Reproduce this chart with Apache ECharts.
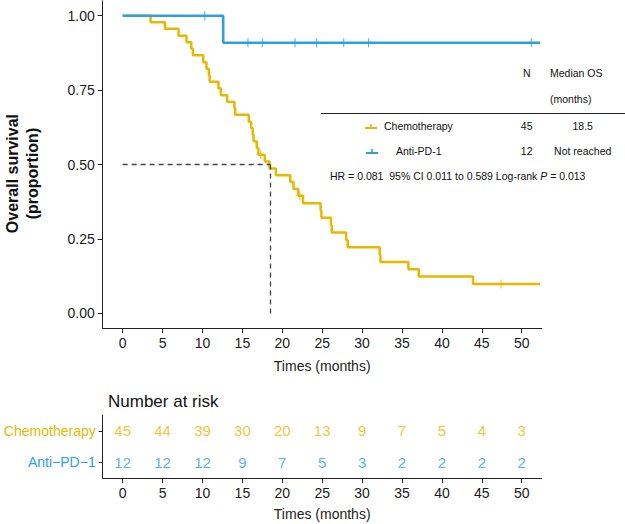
<!DOCTYPE html>
<html>
<head>
<meta charset="utf-8">
<script src="https://cdn.jsdelivr.net/npm/echarts@6/dist/echarts.min.js"></script>
<style>html,body{margin:0;padding:0;background:#fff;}#c{width:625px;height:524px;}</style>
</head>
<body>
<div id="c"></div>
<script>
// ---- data ----
const groups = ['Chemotherapy', 'Anti-PD-1'];
const groupN = [45, 12];
const medianOSText = ['18.5', 'Not reached'];
const medianOS = 18.5;
const riskTimes = [0, 5, 10, 15, 20, 25, 30, 35, 40, 45, 50];
const chemoAtRisk = [45, 44, 39, 30, 20, 13, 9, 7, 5, 4, 3];
const antiAtRisk = [12, 12, 12, 9, 7, 5, 3, 2, 2, 2, 2];
const riskRows = ['Anti\u2212PD\u22121', 'Chemotherapy'];
const yTicks = [0, 0.25, 0.5, 0.75, 1];
const chemoSurv = [[0,1],[3.5,0.978],[5.3,0.956],[7.0,0.933],[8.0,0.911],[8.6,0.889],[8.8,0.867],
  [10.1,0.844],[10.5,0.822],[10.8,0.800],[10.9,0.778],[12.0,0.756],[12.3,0.733],[13.1,0.711],
  [14.0,0.689],[14.1,0.667],[15.8,0.644],[16.1,0.622],[16.3,0.600],[16.4,0.578],[16.8,0.556],
  [17.0,0.533],[17.8,0.510],[18.4,0.487],[19.2,0.464],[21.0,0.441],[21.4,0.418],[22.0,0.395],
  [22.6,0.370],[24.8,0.346],[24.9,0.321],[26.1,0.296],[26.2,0.272],[28.0,0.247],[28.2,0.222],
  [32.2,0.197],[32.3,0.173],[35.8,0.148],[37.1,0.124],[43.9,0.099],[52.3,0.099]];
const chemoCensor = [[17.3,0.533],[22.2,0.395],[47.4,0.099]];
const antiSurv = [[0,1],[12.6,0.909],[52.3,0.909]];
const antiCensor = [[10.3,1],[15.7,0.909],[17.5,0.909],[21.6,0.909],[24.3,0.909],[27.7,0.909],[30.8,0.909],[51.2,0.909]];
const hrText = ['HR = 0.081  95% CI 0.011 to 0.589 Log-rank ', 'P', ' = 0.013'];

const C1 = '#E7B800', C2 = '#2E9FDF';
const FONT = 'Liberation Sans, Arial, Helvetica, sans-serif';
const plus = 'path://M-0.12,-1H0.12V1H-0.12Z M-1,-0.12H1V0.12H-1Z';

const chart = echarts.init(document.getElementById('c'), null, {renderer: 'svg'});

const axisCommon = {
  type: 'value', min: -2.5, max: 52.5,
  axisLine: {show: true, onZero: false, lineStyle: {color: '#222', width: 1}},
  axisTick: {show: true, length: 5, lineStyle: {color: '#222'}, customValues: riskTimes},
  axisLabel: {customValues: riskTimes, fontSize: 14, color: '#1a1a1a', fontFamily: FONT, margin: 8},
  splitLine: {show: false},
  nameLocation: 'middle',
  nameTextStyle: {fontSize: 14, color: '#222', fontFamily: FONT}
};

const tx = (x, y, text, opts) => Object.assign({
  type: 'text', x: x, y: y,
  style: Object.assign({text: text, fontSize: 10.5, fontFamily: FONT, fill: '#111', align: 'center', verticalAlign: 'middle'}, opts || {})
});

chart.setOption({
  animation: false,
  textStyle: {fontFamily: FONT},
  title: {text: 'Number at risk', left: 103, top: 388, textStyle: {fontSize: 17, fontWeight: 'normal', color: '#111', fontFamily: FONT}},
  grid: [
    {left: 102.7, top: 0.8, width: 439, height: 327.5, outerBoundsMode: 'none', containLabel: false},
    {left: 102.7, top: 415, width: 439, height: 63, outerBoundsMode: 'none', containLabel: false}
  ],
  xAxis: [
    Object.assign({}, axisCommon, {gridIndex: 0, name: 'Times (months)', nameGap: 31}),
    Object.assign({}, axisCommon, {gridIndex: 1, name: 'Times (months)', nameGap: 29})
  ],
  yAxis: [
    {gridIndex: 0, type: 'value', min: -0.05, max: 1.05,
     axisLine: {show: true, onZero: false, lineStyle: {color: '#222', width: 1}},
     axisTick: {show: true, length: 5, lineStyle: {color: '#222'}, customValues: yTicks},
     axisLabel: {customValues: yTicks, fontSize: 14, color: '#1a1a1a', margin: 8, formatter: v => v.toFixed(2)},
     splitLine: {show: false},
     name: 'Overall survival\n(proportion)', nameLocation: 'middle', nameRotate: 90, nameGap: 60,
     nameTextStyle: {fontSize: 16, fontWeight: 'bold', color: '#111', lineHeight: 20, fontFamily: FONT, padding: [0, 18, 0, 0]}},
    {gridIndex: 1, type: 'category', data: riskRows,
     axisLine: {show: true, onZero: false, lineStyle: {color: '#222', width: 1}},
     axisTick: {show: true, length: 4, alignWithLabel: true, lineStyle: {color: '#222'}},
     axisLabel: {margin: 7, fontSize: 14, formatter: v => (v === 'Chemotherapy' ? '{a|' + v + '}' : '{b|' + v + '}'),
       rich: {a: {color: C1, fontSize: 14, fontFamily: FONT}, b: {color: C2, fontSize: 14, fontFamily: FONT}}},
     splitLine: {show: false}}
  ],
  series: [
    {type: 'line', step: 'end', data: chemoSurv, xAxisIndex: 0, yAxisIndex: 0, showSymbol: false,
     lineStyle: {color: C1, width: 2.5}, z: 3,
     markLine: {silent: true, symbol: 'none', label: {show: false},
       lineStyle: {color: '#444', type: [5, 4], width: 1.3},
       data: [[{coord: [0, 0.5]}, {coord: [medianOS, 0.5]}], [{coord: [medianOS, 0.5]}, {coord: [medianOS, 0]}]]}},
    {type: 'scatter', data: chemoCensor, xAxisIndex: 0, yAxisIndex: 0, symbol: plus, symbolSize: 9,
     itemStyle: {color: C1}, z: 4},
    {type: 'line', step: 'end', data: antiSurv, xAxisIndex: 0, yAxisIndex: 0, showSymbol: false,
     lineStyle: {color: C2, width: 2.5}, z: 5},
    {type: 'scatter', data: antiCensor, xAxisIndex: 0, yAxisIndex: 0, symbol: plus, symbolSize: 9,
     itemStyle: {color: C2}, z: 6},
    {type: 'scatter', xAxisIndex: 1, yAxisIndex: 1, symbolSize: 0,
     data: riskTimes.map((t, i) => [t, 'Chemotherapy', chemoAtRisk[i]]),
     label: {show: true, position: 'inside', formatter: p => p.value[2], color: C1, fontSize: 15, fontFamily: FONT}},
    {type: 'scatter', xAxisIndex: 1, yAxisIndex: 1, symbolSize: 0,
     data: riskTimes.map((t, i) => [t, riskRows[0], antiAtRisk[i]]),
     label: {show: true, position: 'inside', formatter: p => p.value[2], color: C2, fontSize: 15, fontFamily: FONT}}
  ],
  graphic: [
    tx(526.7, 73, 'N'),
    tx(550, 73, 'Median OS', {align: 'left'}),
    tx(550, 99, '(months)', {align: 'left'}),
    {type: 'line', shape: {x1: 321, y1: 113.5, x2: 625, y2: 113.5}, style: {stroke: '#222', lineWidth: 1}},
    {type: 'line', shape: {x1: 365, y1: 128, x2: 377, y2: 128}, style: {stroke: C1, lineWidth: 2}},
    {type: 'line', shape: {x1: 371, y1: 124, x2: 371, y2: 129}, style: {stroke: C1, lineWidth: 1.5}},
    tx(384, 126, groups[0], {align: 'left'}),
    tx(526.7, 126, String(groupN[0])),
    tx(582.7, 126, medianOSText[0]),
    {type: 'line', shape: {x1: 366, y1: 153, x2: 378, y2: 153}, style: {stroke: C2, lineWidth: 2}},
    {type: 'line', shape: {x1: 372, y1: 149, x2: 372, y2: 154}, style: {stroke: C2, lineWidth: 1.5}},
    tx(396, 151, groups[1], {align: 'left'}),
    tx(526.7, 151, String(groupN[1])),
    tx(582.7, 151, medianOSText[1]),
    {type: 'text', x: 330, y: 176, style: {
      text: '{n|' + hrText[0] + '}{i|' + hrText[1] + '}{n|' + hrText[2] + '}',
      verticalAlign: 'middle', align: 'left', fontFamily: FONT,
      rich: {n: {fontSize: 10.5, fontFamily: FONT, fill: '#111'}, i: {fontSize: 10.5, fontStyle: 'italic', fontFamily: FONT, fill: '#111'}}}}
  ]
});
</script>
</body>
</html>
